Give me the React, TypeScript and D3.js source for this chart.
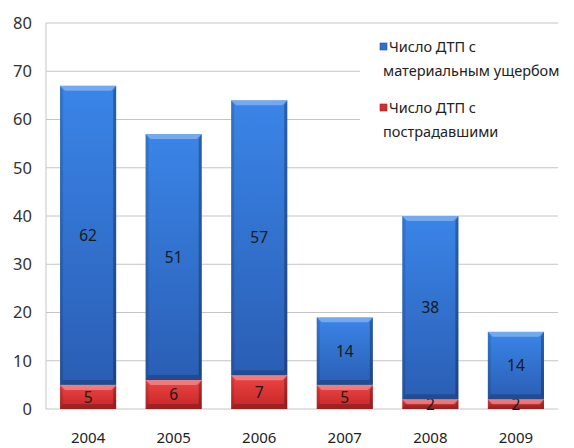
import React, { useEffect, useRef } from 'react';
import * as d3 from 'd3';

const years = ['2004', '2005', '2006', '2007', '2008', '2009'];
const injured = [5, 6, 7, 5, 2, 2];
const damage = [62, 51, 57, 14, 38, 14];
const yTicks = [0, 10, 20, 30, 40, 50, 60, 70, 80];
const seriesNames = [
  ['Число ДТП с', 'материальным ущербом'],
  ['Число ДТП с', 'пострадавшими'],
];

const FONT = "'Noto Sans', 'DejaVu Sans', sans-serif";

const App = () => {
  const svgRef = useRef<SVGSVGElement>(null);

  useEffect(() => {
    if (!svgRef.current) return;
    const width = 574;
    const height = 448;
    const margin = { top: 23, right: 16, bottom: 39, left: 46 };

    const svg = d3.select(svgRef.current);
    svg.selectAll('*').remove();
    svg.attr('width', width).attr('height', height);

    const defs = svg.append('defs');
    const vGrad = (id: string, top: string, bottom: string) => {
      const g = defs.append('linearGradient').attr('id', id)
        .attr('x1', 0).attr('y1', 0).attr('x2', 0).attr('y2', 1);
      g.append('stop').attr('offset', '0%').attr('stop-color', top);
      g.append('stop').attr('offset', '100%').attr('stop-color', bottom);
    };
    vGrad('blueFill', '#3a85e8', '#2a5eb4');
    vGrad('redFill', '#ee4444', '#c42626');

    const x = d3.scaleBand()
      .domain(years)
      .range([margin.left, width - margin.right])
      .paddingInner(0.344)
      .paddingOuter(0.164);

    const y = d3.scaleLinear()
      .domain([0, 80])
      .range([height - margin.bottom, margin.top]);

    // gridlines
    svg.append('g')
      .selectAll('line')
      .data(yTicks)
      .enter()
      .append('line')
      .attr('x1', margin.left)
      .attr('x2', width - margin.right)
      .attr('y1', d => y(d))
      .attr('y2', d => y(d))
      .attr('stroke', '#c4c4c4')
      .attr('stroke-width', 1);

    // y axis line
    svg.append('line')
      .attr('x1', margin.left).attr('x2', margin.left)
      .attr('y1', y(80)).attr('y2', y(0))
      .attr('stroke', '#c4c4c4');

    // legend background covers gridlines
    svg.append('rect')
      .attr('x', 360).attr('y', 30)
      .attr('width', 214).attr('height', 116)
      .attr('fill', '#fff');

    svg.append('g')
      .selectAll('text')
      .data(yTicks)
      .enter()
      .append('text')
      .attr('x', 32)
      .attr('y', d => y(d))
      .attr('dy', '0.35em')
      .attr('text-anchor', 'end')
      .attr('font-family', FONT)
      .attr('font-size', '16.5px')
      .attr('fill', '#333')
      .text(d => d);

    svg.append('g')
      .selectAll('text')
      .data(years)
      .enter()
      .append('text')
      .attr('x', d => x(d)! + x.bandwidth() / 2)
      .attr('y', 443)
      .attr('text-anchor', 'middle')
      .attr('font-family', FONT)
      .attr('font-size', '15px')
      .attr('fill', '#222')
      .text(d => d);

    const bw = x.bandwidth();
    const segments: { year: string; y0: number; y1: number; value: number; fill: string }[] = [];
    years.forEach((yr, i) => {
      segments.push({ year: yr, y0: 0, y1: injured[i], value: injured[i], fill: 'url(#redFill)' });
      segments.push({ year: yr, y0: injured[i], y1: injured[i] + damage[i], value: damage[i], fill: 'url(#blueFill)' });
    });

    const bars = svg.append('g');
    segments.forEach(s => {
      const x0 = x(s.year)!;
      const top = y(s.y1);
      const bottom = y(s.y0);
      const h = bottom - top;
      const b = Math.min(5, h / 2);
      const g = bars.append('g');
      g.append('rect')
        .attr('x', x0).attr('y', top)
        .attr('width', bw).attr('height', h)
        .attr('fill', s.fill);
      // top highlight bevel
      g.append('path')
        .attr('d', `M${x0},${top}L${x0 + bw},${top}L${x0 + bw - b},${top + b}L${x0 + b},${top + b}Z`)
        .attr('fill', '#fff').attr('opacity', 0.3);
      // left bevel
      g.append('path')
        .attr('d', `M${x0},${top}L${x0 + b * 0.6},${top + b}L${x0 + b * 0.6},${bottom - b}L${x0},${bottom}Z`)
        .attr('fill', '#000').attr('opacity', 0.12);
      // right bevel
      g.append('path')
        .attr('d', `M${x0 + bw},${top}L${x0 + bw - b * 0.6},${top + b}L${x0 + bw - b * 0.6},${bottom - b}L${x0 + bw},${bottom}Z`)
        .attr('fill', '#000').attr('opacity', 0.28);
      // bottom bevel
      g.append('path')
        .attr('d', `M${x0},${bottom}L${x0 + b * 0.6},${bottom - b}L${x0 + bw - b * 0.6},${bottom - b}L${x0 + bw},${bottom}Z`)
        .attr('fill', '#000').attr('opacity', 0.2);
      g.append('text')
        .attr('x', x0 + bw / 2)
        .attr('y', (top + bottom) / 2)
        .attr('dy', '0.36em')
        .attr('text-anchor', 'middle')
        .attr('font-family', FONT)
        .attr('font-size', '15.5px')
        .attr('fill', '#1a1a1a')
        .text(s.value);
    });

    // legend
    const legendColors = ['#2f6fd4', '#d42e2e'];
    const legend = svg.append('g');
    seriesNames.forEach((lines, i) => {
      const ly = 47 + i * 61;
      legend.append('rect')
        .attr('x', 380).attr('y', ly - 4)
        .attr('width', 7).attr('height', 7)
        .attr('fill', legendColors[i])
        .attr('stroke', d3.color(legendColors[i])!.darker(0.8).toString())
        .attr('stroke-width', 0.6);
      lines.forEach((t, j) => {
        legend.append('text')
          .attr('x', j === 0 ? 389 : 383)
          .attr('y', ly + j * 24)
          .attr('dy', '0.35em')
          .attr('font-family', FONT)
          .attr('font-size', '14.5px')
          .attr('fill', '#222')
          .text(t);
      });
    });
  }, []);

  return (
    <div style={{ position: 'absolute', left: 0, top: 0 }}>
      <svg ref={svgRef} style={{ display: 'block' }}></svg>
    </div>
  );
};

export default App;
